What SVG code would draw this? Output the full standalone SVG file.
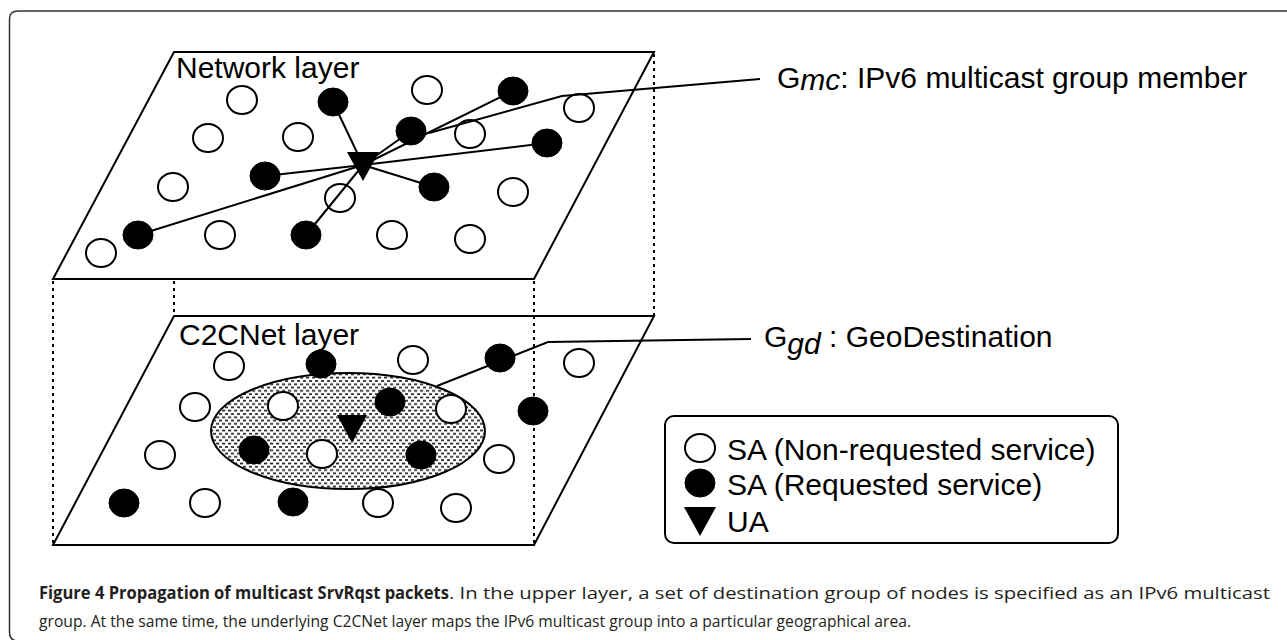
<svg xmlns="http://www.w3.org/2000/svg" width="1287" height="640" viewBox="0 0 1287 640">
<defs>
<pattern id="dots" width="6" height="6.6" patternUnits="userSpaceOnUse">
<rect width="6" height="6.6" fill="#fff"/>
<rect x="0" y="0.6" width="3.2" height="1.7" fill="#222"/>
<rect x="3" y="3.9" width="3.2" height="1.7" fill="#222"/>
</pattern>
<style>
.frame{fill:none;stroke:#333;stroke-width:1.5}
.plane{fill:#fff;stroke:#000;stroke-width:2;stroke-linejoin:miter}
.dot{fill:none;stroke:#000;stroke-width:2;stroke-dasharray:3 4}
.o{fill:#fff;stroke:#000;stroke-width:2}
.f{fill:#000;stroke:#000;stroke-width:1}
.ln{fill:none;stroke:#000;stroke-width:2}
.lbl{font-family:"Liberation Sans",Arial,Helvetica,sans-serif;font-size:30px;fill:#000}
.cap{font-family:"Open Sans","Liberation Sans",sans-serif;font-size:17px;fill:#231f20}
</style>
</defs>
<rect width="1287" height="640" fill="#fff"/>
<path class="frame" d="M18 641 Q9.5 641 9.5 632 L9.5 19 Q9.5 11 18 11 L1287 11"/>

<g id="network-layer">
<polygon class="plane" points="174,52 654,52 534,279 53,279"/>
<text class="lbl" x="176" y="78">Network layer</text>
</g>
<g id="c2cnet-layer">
<polygon class="plane" points="174,316 654,316 534,545 53,545"/>
<g id="geodestination-area"><ellipse cx="348" cy="431" rx="137" ry="58" fill="url(#dots)" stroke="#000" stroke-width="2"/></g>
<text class="lbl" x="179" y="345">C2CNet layer</text>
</g>

<g id="projection-lines">
<line class="dot" x1="53" y1="281" x2="53" y2="545"/>
<line class="dot" x1="174" y1="281" x2="174" y2="315"/>
<line class="dot" x1="534" y1="281" x2="534" y2="545"/>
<line class="dot" x1="654" y1="54" x2="654" y2="316"/>
</g>

<g id="top-open-nodes">
<g id="t-o1"><ellipse class="o" cx="242" cy="100" rx="15" ry="14"/></g>
<g id="t-o2"><ellipse class="o" cx="208" cy="138" rx="15" ry="14"/></g>
<g id="t-o3"><ellipse class="o" cx="298" cy="137" rx="15" ry="14"/></g>
<g id="t-o4"><ellipse class="o" cx="173" cy="187" rx="15" ry="14"/></g>
<g id="t-o5"><ellipse class="o" cx="427" cy="90" rx="15" ry="14"/></g>
<g id="t-o6"><ellipse class="o" cx="470" cy="134" rx="15" ry="14"/></g>
<g id="t-o7"><ellipse class="o" cx="579" cy="108" rx="15" ry="14"/></g>
<g id="t-o8"><ellipse class="o" cx="513" cy="192" rx="15" ry="14"/></g>
<g id="t-o9"><ellipse class="o" cx="340" cy="198" rx="15" ry="14"/></g>
<g id="t-o10"><ellipse class="o" cx="101" cy="253" rx="15" ry="14"/></g>
<g id="t-o11"><ellipse class="o" cx="220" cy="235" rx="15" ry="14"/></g>
<g id="t-o12"><ellipse class="o" cx="392" cy="235" rx="15" ry="14"/></g>
<g id="t-o13"><ellipse class="o" cx="470" cy="239" rx="15" ry="14"/></g>
</g>

<g id="bottom-open-nodes">
<g id="b-o1"><ellipse class="o" cx="229" cy="366" rx="15" ry="14"/></g>
<g id="b-o2"><ellipse class="o" cx="413" cy="360" rx="15" ry="14"/></g>
<g id="b-o3"><ellipse class="o" cx="579" cy="363" rx="15" ry="14"/></g>
<g id="b-o4"><ellipse class="o" cx="195" cy="407" rx="15" ry="14"/></g>
<g id="b-o5"><ellipse class="o" cx="283" cy="406" rx="15" ry="14"/></g>
<g id="b-o6"><ellipse class="o" cx="451" cy="409" rx="15" ry="14"/></g>
<g id="b-o7"><ellipse class="o" cx="160" cy="455" rx="15" ry="14"/></g>
<g id="b-o8"><ellipse class="o" cx="322" cy="454" rx="15" ry="14"/></g>
<g id="b-o9"><ellipse class="o" cx="499" cy="459" rx="15" ry="14"/></g>
<g id="b-o10"><ellipse class="o" cx="205" cy="503" rx="15" ry="14"/></g>
<g id="b-o11"><ellipse class="o" cx="378" cy="503" rx="15" ry="14"/></g>
<g id="b-o12"><ellipse class="o" cx="456" cy="508" rx="15" ry="14"/></g>
</g>

<g id="connectors">
<line class="ln" x1="363" y1="165" x2="333" y2="102"/>
<line class="ln" x1="363" y1="165" x2="411" y2="131"/>
<line class="ln" x1="363" y1="165" x2="513" y2="91"/>
<line class="ln" x1="363" y1="165" x2="547" y2="143"/>
<line class="ln" x1="363" y1="165" x2="434" y2="187"/>
<line class="ln" x1="363" y1="165" x2="265" y2="176"/>
<line class="ln" x1="363" y1="165" x2="138" y2="235"/>
<line class="ln" x1="363" y1="165" x2="306" y2="235"/>
<polyline class="ln" points="429,133 562,96 760,79"/>
<polyline class="ln" points="437,386 548,342 751,339"/>
</g>

<g id="top-requested-nodes">
<g id="t-f1"><ellipse class="f" cx="333" cy="102" rx="15" ry="14"/></g>
<g id="t-f2"><ellipse class="f" cx="513" cy="91" rx="15" ry="14"/></g>
<g id="t-f3"><ellipse class="f" cx="411" cy="131" rx="15" ry="14"/></g>
<g id="t-f4"><ellipse class="f" cx="547" cy="143" rx="15" ry="14"/></g>
<g id="t-f5"><ellipse class="f" cx="265" cy="176" rx="15" ry="14"/></g>
<g id="t-f6"><ellipse class="f" cx="434" cy="187" rx="15" ry="14"/></g>
<g id="t-f7"><ellipse class="f" cx="138" cy="235" rx="15" ry="14"/></g>
<g id="t-f8"><ellipse class="f" cx="306" cy="235" rx="15" ry="14"/></g>
</g>
<g id="top-ua"><polygon fill="#000" points="347,152 379,152 363,181"/></g>

<g id="bottom-requested-nodes">
<g id="b-f1"><ellipse class="f" cx="321" cy="364" rx="15" ry="14"/></g>
<g id="b-f2"><ellipse class="f" cx="500" cy="358" rx="15" ry="14"/></g>
<g id="b-f3"><ellipse class="f" cx="390" cy="402" rx="15" ry="14"/></g>
<g id="b-f4"><ellipse class="f" cx="533" cy="411" rx="15" ry="14"/></g>
<g id="b-f5"><ellipse class="f" cx="254" cy="450" rx="15" ry="14"/></g>
<g id="b-f6"><ellipse class="f" cx="421" cy="455" rx="15" ry="14"/></g>
<g id="b-f7"><ellipse class="f" cx="124" cy="503" rx="15" ry="14"/></g>
<g id="b-f8"><ellipse class="f" cx="293" cy="502" rx="15" ry="14"/></g>
</g>
<g id="bottom-ua"><polygon fill="#000" points="337,415 367,415 352,443"/></g>

<g id="label-gmc">
<text class="lbl" x="777" y="88">G<tspan font-style="italic" dy="2">mc</tspan><tspan dy="-2">: IPv6 multicast group member</tspan></text>
</g>
<g id="label-ggd">
<text class="lbl" x="764" y="347">G<tspan font-style="italic" dy="7">gd</tspan><tspan dy="-7"> : GeoDestination</tspan></text>
</g>

<g id="legend">
<rect x="665" y="416" width="453" height="127" rx="9" fill="#fff" stroke="#000" stroke-width="2"/>
<ellipse class="o" cx="700" cy="448" rx="15" ry="14"/>
<text class="lbl" x="727" y="460">SA (Non-requested service)</text>
<ellipse class="f" cx="700" cy="483" rx="15" ry="14"/>
<text class="lbl" x="727" y="495">SA (Requested service)</text>
<polygon fill="#000" points="684,507 716,507 700,536"/>
<text class="lbl" x="727" y="532">UA</text>
</g>

<g id="caption">
<text class="cap" x="39" y="599" font-weight="bold" textLength="410" lengthAdjust="spacingAndGlyphs">Figure 4 Propagation of multicast SrvRqst packets</text>
<text class="cap" x="449" y="599" textLength="821" lengthAdjust="spacingAndGlyphs">. In the upper layer, a set of destination group of nodes is specified as an IPv6 multicast</text>
<text class="cap" x="39" y="627" textLength="872" lengthAdjust="spacingAndGlyphs">group. At the same time, the underlying C2CNet layer maps the IPv6 multicast group into a particular geographical area.</text>
</g>
</svg>
